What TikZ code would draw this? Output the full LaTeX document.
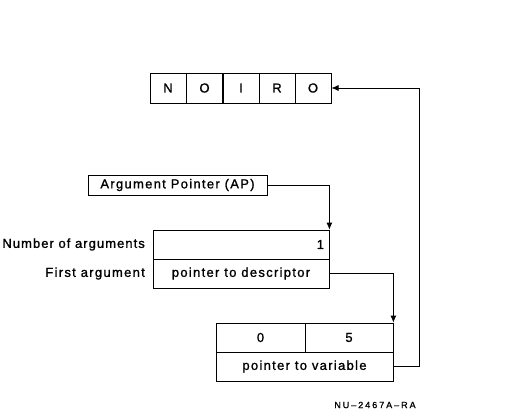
\documentclass[tikz,border=0pt]{standalone}
\usepackage{fontspec}
\setmainfont{Liberation Sans}[LetterSpace=10,FakeBold=1.2]
\newfontfamily\codefont{Liberation Sans}[LetterSpace=22,FakeBold=1.2]
\usetikzlibrary{arrows.meta}
\begin{document}
\begin{tikzpicture}[x=1pt,y=-1pt,
  cell/.style={draw,line width=0.8pt,minimum height=29pt,inner sep=0pt,font=\fontsize{13}{15}\selectfont},
  lbl/.style={anchor=east,inner sep=0pt,font=\fontsize{13}{15}\selectfont},
  conn/.style={line width=0.8pt,-{Latex[length=7pt,width=6pt]}},
  wire/.style={line width=0.8pt}]
\useasboundingbox (0,0) rectangle (507,416);
% NOIRO
\node[cell,minimum width=36.2pt,minimum height=30pt] (n1) at (168,88) {N};
\node[cell,minimum width=36.2pt,minimum height=30pt] (n2) at (204.5,88) {O};
\node[cell,minimum width=36.2pt,minimum height=30pt] (n3) at (241,88) {I};
\node[cell,minimum width=36.2pt,minimum height=30pt] (n4) at (277,88) {R};
\node[cell,minimum width=36.2pt,minimum height=30pt] (n5) at (313,88) {O};
% AP
\node[cell,minimum width=179pt,minimum height=20pt] (ap) at (177.5,185) {Argument Pointer (AP)};
% argument list
\node[cell,minimum width=176pt,text width=166pt,align=right] (r1) at (241,244.5) {1};
\node[cell,minimum width=176pt] (r2) at (241,273.5) {pointer to descriptor};
\node[lbl] (l1) at (145,244.5) {\addfontfeature{LetterSpace=8}Number of arguments};
\node[lbl] (l2) at (145,273.5) {First argument};
% descriptor
\node[cell,minimum width=89pt] (d0) at (260.5,337.5) {0};
\node[cell,minimum width=88pt] (d5) at (349,337.5) {5};
\node[cell,minimum width=177pt] (dp) at (304.5,366.5) {pointer to variable};
% connectors
\draw[conn] (ap.east) -| (r1.north east);
\draw[conn] (r2.east) -| (d5.north east);
\coordinate (turn) at (419,366.5);
\draw[conn] (dp.east) -- (turn) |- (n5.east);
% code
\node[inner sep=0pt,font=\codefont\fontsize{9}{11}\selectfont] (code) at (375,405) {NU–2467A–RA};
\end{tikzpicture}
\end{document}
